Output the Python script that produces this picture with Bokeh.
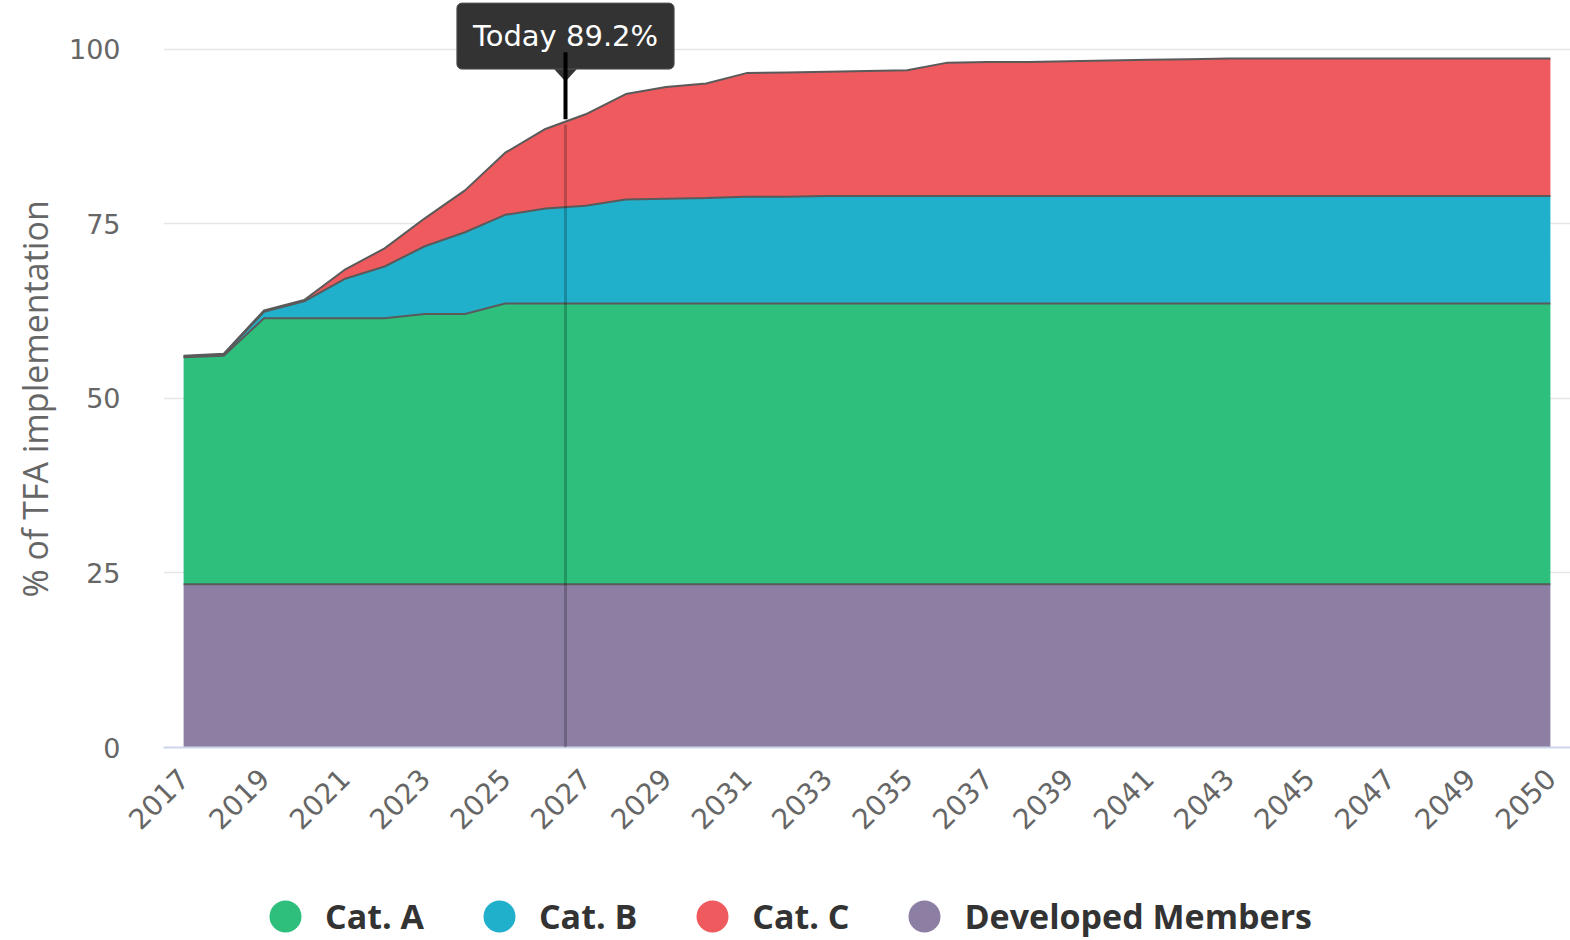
from bokeh.plotting import figure
from bokeh.layouts import column
from bokeh.models import (ColumnDataSource, Range1d, Legend, LegendItem, Label,
                          PolyAnnotation, Arrow, FixedTicker, Title)
from bokeh.embed import file_html
from bokeh.resources import INLINE

# ---- data ----
points = list(range(35))
tick_labels = ["2017", "2019", "2021", "2023", "2025", "2027", "2029", "2031", "2033",
               "2035", "2037", "2039", "2041", "2043", "2045", "2047", "2049", "2050"]
developed = [23.4, 23.4, 23.4, 23.4, 23.4, 23.4, 23.4, 23.4, 23.4, 23.4, 23.4, 23.4,
             23.4, 23.4, 23.4, 23.4, 23.4, 23.4, 23.4, 23.4, 23.4, 23.4, 23.4, 23.4,
             23.4, 23.4, 23.4, 23.4, 23.4, 23.4, 23.4, 23.4, 23.4, 23.4, 23.4]
cat_a = [32.5, 32.7, 38.1, 38.1, 38.1, 38.1, 38.7, 38.7, 40.2, 40.2, 40.2, 40.2,
         40.2, 40.2, 40.2, 40.2, 40.2, 40.2, 40.2, 40.2, 40.2, 40.2, 40.2, 40.2,
         40.2, 40.2, 40.2, 40.2, 40.2, 40.2, 40.2, 40.2, 40.2, 40.2, 40.2]
cat_b = [0.1, 0.2, 0.9, 2.4, 5.6, 7.4, 9.7, 11.7, 12.7, 13.6, 14.0, 14.9,
         15.0, 15.1, 15.3, 15.3, 15.4, 15.4, 15.4, 15.4, 15.4, 15.4, 15.4, 15.4,
         15.4, 15.4, 15.4, 15.4, 15.4, 15.4, 15.4, 15.4, 15.4, 15.4, 15.4]
cat_c = [0.1, 0.1, 0.2, 0.2, 1.3, 2.6, 4.0, 6.0, 8.9, 11.4, 13.1, 15.1,
         16.0, 16.4, 17.7, 17.8, 17.8, 17.9, 18.0, 19.1, 19.2, 19.2, 19.3, 19.4,
         19.5, 19.6, 19.7, 19.7, 19.7, 19.7, 19.7, 19.7, 19.7, 19.7, 19.7]
series_names = ["Cat. A", "Cat. B", "Cat. C", "Developed Members"]
y_title = "% of TFA implementation"
today_point = 9.5
today_value = 89.2
today_text = "Today 89.2%"

GREEN = "#2ebf7d"
BLUE = "#20b0cc"
RED = "#ee5a5e"
PURPLE = "#8c7fa3"

src = ColumnDataSource(dict(x=points, dev=developed, a=cat_a, b=cat_b, c=cat_c))

p = figure(width=1570, height=876, output_backend="svg", toolbar_location=None,
           x_range=Range1d(-0.5, 34.5), y_range=Range1d(0, 107.0),
           min_border_left=163, min_border_right=0, min_border_top=0,
           min_border_bottom=129)
p.outline_line_color = None

p.varea_stack(["dev", "a", "b", "c"], x="x", source=src,
              color=[PURPLE, GREEN, BLUE, RED])
p.vline_stack(["dev", "a", "b", "c"], x="x", source=src,
              color="#5a5a5a", line_width=2)

# axes
p.xgrid.visible = False
p.ygrid.grid_line_color = "#e6e6e6"
p.ygrid.grid_line_width = 1.5

p.xaxis.ticker = FixedTicker(ticks=points[::2])
p.xaxis.major_label_overrides = {pos: lab for pos, lab in zip(points[::2], tick_labels)}
p.xaxis.major_label_orientation = 0.785398
p.xaxis.major_label_text_font = "DejaVu Sans"
p.xaxis.major_label_text_font_size = "28px"
p.xaxis.major_label_text_color = "#666666"
p.xaxis.major_label_standoff = 26
p.xaxis.axis_line_color = "#ccd6eb"
p.xaxis.axis_line_width = 2
p.xaxis.major_tick_line_color = None
p.xaxis.major_tick_out = 0
p.xaxis.major_tick_in = 0
p.xaxis.minor_tick_line_color = None

p.yaxis.ticker = FixedTicker(ticks=[0, 25, 50, 75, 100])
p.yaxis.major_label_text_font = "DejaVu Sans"
p.yaxis.major_label_text_font_size = "27px"
p.yaxis.major_label_text_color = "#666666"
p.yaxis.major_label_standoff = 43
p.yaxis.axis_line_color = None
p.yaxis.major_tick_line_color = None
p.yaxis.major_tick_out = 0
p.yaxis.major_tick_in = 0
p.yaxis.minor_tick_line_color = None

# y-axis title, placed along the 0-100 span
p.add_layout(Title(text=y_title, align="left", offset=150, standoff=16,
                   text_font="Open Sans", text_font_style="normal",
                   text_font_size="34px", text_color="#666666"), "left")

# today marker
p.add_layout(Arrow(end=None, x_start=today_point, y_start=0, x_end=today_point,
                   y_end=today_value, line_color="black", line_alpha=0.22, line_width=3))
p.add_layout(PolyAnnotation(xs=[today_point - 0.38, today_point + 0.38, today_point],
                            ys=[97.8, 97.8, 95.4], fill_color="#333333", fill_alpha=1,
                            line_color=None))
p.add_layout(Label(x=today_point, y=101.9, text=today_text, text_align="center",
                   text_baseline="middle", text_color="white", text_font="DejaVu Sans",
                   text_font_size="29px", background_fill_color="#333333",
                   background_fill_alpha=1, border_line_color="#555555",
                   padding=16, border_radius=5))
p.add_layout(Arrow(end=None, x_start=today_point, y_start=today_value + 0.8,
                   x_end=today_point, y_end=99.6, line_color="black", line_width=4))

# legend (separate strip below the chart; its dummy points lie outside the view)
leg = figure(width=1570, height=64, output_backend="svg", toolbar_location=None,
             x_range=Range1d(0, 1), y_range=Range1d(0, 1),
             min_border_left=0, min_border_right=0, min_border_top=0, min_border_bottom=0)
leg.outline_line_color = None
leg.axis.visible = False
leg.grid.visible = False
items = []
for name, col in zip(series_names, [GREEN, BLUE, RED, PURPLE]):
    r = leg.scatter([-5], [-5], marker="circle", size=32, fill_color=col, line_color=None)
    items.append(LegendItem(label=name, renderers=[r]))
legend = Legend(items=items,
                orientation="horizontal", location=(82, -16),
                glyph_width=80, glyph_height=80, label_standoff=0, spacing=35,
                padding=0, margin=0, border_line_color=None, background_fill_alpha=0,
                label_text_font="Open Sans", label_text_font_style="bold",
                label_text_font_size="34px", label_text_color="#333333",
                label_text_baseline="middle")
leg.add_layout(legend)

layout = column(p, leg, spacing=0)
open("out.html", "w").write(file_html(layout, INLINE))
